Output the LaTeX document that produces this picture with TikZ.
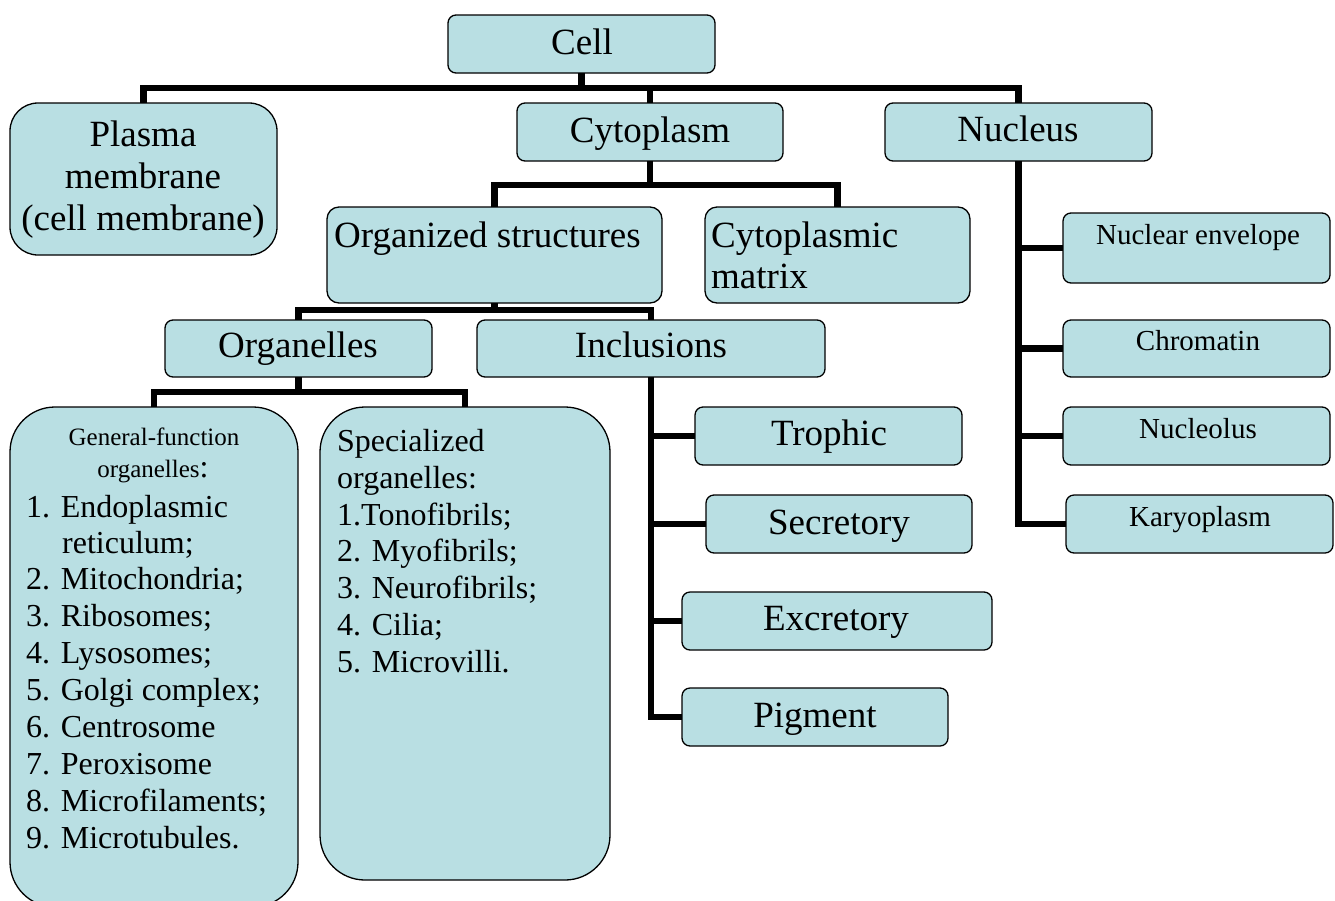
\documentclass[tikz,border=0pt]{standalone}
\usepackage{fontspec}
\setmainfont{Liberation Serif}
\definecolor{boxfill}{RGB}{185,223,227}
\begin{document}
\begin{tikzpicture}[x=1pt,y=-1pt,
  box/.style={draw=black, line width=1.3pt, fill=boxfill, rounded corners=8pt,
    inner sep=0pt, outer sep=0pt, anchor=north west},
  conn/.style={line width=6.6pt, line join=miter},
  big/.style={font=\fontsize{37pt}{42pt}\selectfont, inner sep=0pt},
  small/.style={font=\fontsize{29pt}{33pt}\selectfont, inner sep=0pt},
  head/.style={font=\fontsize{25pt}{29pt}\selectfont, inner sep=0pt},
  list/.style={font=\fontsize{32pt}{37pt}\selectfont, inner sep=0pt, anchor=base west}]
\useasboundingbox (0,0) rectangle (1335,900);
\clip (0,0) rectangle (1335,900);

% boxes
\node[box, minimum width=267pt, minimum height=58pt] (cell) at (448,15) {};
\node[box, minimum width=267pt, minimum height=152pt, rounded corners=28pt] (plasma) at (10,103) {};
\node[box, minimum width=266pt, minimum height=58pt] (cyto) at (517,103) {};
\node[box, minimum width=267pt, minimum height=58pt] (nucleus) at (885,103) {};
\node[box, minimum width=335pt, minimum height=96pt, rounded corners=12pt] (org) at (327,207) {};
\node[box, minimum width=265pt, minimum height=96pt, rounded corners=12pt] (matrix) at (705,207) {};
\node[box, minimum width=267pt, minimum height=57pt] (organelles) at (165,320) {};
\node[box, minimum width=348pt, minimum height=57pt] (incl) at (477,320) {};
\node[box, minimum width=288pt, minimum height=500pt, rounded corners=45pt] (general) at (10,407) {};
\node[box, minimum width=290pt, minimum height=473pt, rounded corners=45pt] (special) at (320,407) {};
\node[box, minimum width=267pt, minimum height=58pt] (trophic) at (695,407) {};
\node[box, minimum width=266pt, minimum height=58pt] (secret) at (706,495) {};
\node[box, minimum width=310pt, minimum height=58pt] (excret) at (682,592) {};
\node[box, minimum width=266pt, minimum height=58pt] (pigment) at (682,688) {};
\node[box, minimum width=267pt, minimum height=70pt] (nenv) at (1063,213) {};
\node[box, minimum width=267pt, minimum height=57pt] (chrom) at (1063,320) {};
\node[box, minimum width=267pt, minimum height=58pt] (nucleolus) at (1063,407) {};
\node[box, minimum width=267pt, minimum height=58pt] (karyo) at (1066,495) {};

% connectors
\draw[conn] (cell.south) -- ++(0,15) coordinate (bar1) -| (plasma.north);
\draw[conn] (bar1) -| (cyto.north);
\draw[conn] (bar1) -| (nucleus.north);
\draw[conn] (cyto.south) -- ++(0,24) coordinate (bar2) -| (org.north);
\draw[conn] (bar2) -| (matrix.north);
\draw[conn] (org.south) -- ++(0,7) coordinate (bar3) -| (organelles.north);
\draw[conn] (bar3) -| (incl.north);
\draw[conn] (organelles.south) -- ++(0,15) coordinate (bar4) -| (general.north);
\draw[conn] (bar4) -| (special.north);
\draw[conn] (incl.south) |- (trophic.west);
\draw[conn] (incl.south) |- (secret.west);
\draw[conn] (incl.south) |- (excret.west);
\draw[conn] (incl.south) |- (pigment.west);
\draw[conn] (nucleus.south) |- (nenv.west);
\draw[conn] (nucleus.south) |- (chrom.west);
\draw[conn] (nucleus.south) |- (nucleolus.west);
\draw[conn] (nucleus.south) |- (karyo.west);

% texts
\node[big, anchor=base] (t-cell) at (582,54) {Cell};
\node[big, anchor=base] (t-pl1) at (143,146) {Plasma};
\node[big, anchor=base] (t-pl2) at (143,188) {membrane};
\node[big, anchor=base] (t-pl3) at (143,230) {(cell membrane)};
\node[big, anchor=base] (t-cyto) at (650,142) {Cytoplasm};
\node[big, anchor=base] (t-nuc) at (1018,141) {Nucleus};
\node[big, anchor=base] (t-org) at (487.5,247) {Organized structures};
\node[big, anchor=base west] (t-mat1) at (711,247) {Cytoplasmic};
\node[big, anchor=base west] (t-mat2) at (711,288) {matrix};
\node[big, anchor=base] (t-organelles) at (298,357) {Organelles};
\node[big, anchor=base] (t-incl) at (651,357) {Inclusions};
\node[big, anchor=base] (t-trophic) at (829,445) {Trophic};
\node[big, anchor=base] (t-secret) at (839,534) {Secretory};
\node[big, anchor=base] (t-excret) at (836,630) {Excretory};
\node[big, anchor=base] (t-pigment) at (815,727) {Pigment};
\node[small, anchor=base] (t-nenv) at (1198,244) {Nuclear envelope};
\node[small, anchor=base] (t-chrom) at (1198,350) {Chromatin};
\node[small, anchor=base] (t-nucleolus) at (1198,438) {Nucleolus};
\node[small, anchor=base] (t-karyo) at (1200,526) {Karyoplasm};

% general-function organelles
\node[head, anchor=base] (t-gen1) at (154,445) {General-function};
\node[head, anchor=base] (t-gen2) at (153,477) {organelles\fontsize{32pt}{37pt}\selectfont:};
\node[list] (g1) at (26,517) {1. Endoplasmic};
\node[list] (g1b) at (62,553) {reticulum;};
\node[list] (g2) at (26,589) {2. Mitochondria;};
\node[list] (g3) at (26,626) {3. Ribosomes;};
\node[list] (g4) at (26,663) {4. Lysosomes;};
\node[list] (g5) at (26,700) {5. Golgi complex;};
\node[list] (g6) at (26,737) {6. Centrosome};
\node[list] (g7) at (26,774) {7. Peroxisome};
\node[list] (g8) at (26,811) {8. Microfilaments;};
\node[list] (g9) at (26,848) {9. Microtubules.};

% specialized organelles
\node[list] (s0) at (337,451) {Specialized};
\node[list] (s0b) at (337,488) {organelles:};
\node[list] (s1) at (337,525) {1.Tonofibrils;};
\node[list] (s2) at (337,561) {2. Myofibrils;};
\node[list] (s3) at (337,598) {3. Neurofibrils;};
\node[list] (s4) at (337,635) {4. Cilia;};
\node[list] (s5) at (337,672) {5. Microvilli.};
\end{tikzpicture}
\end{document}
